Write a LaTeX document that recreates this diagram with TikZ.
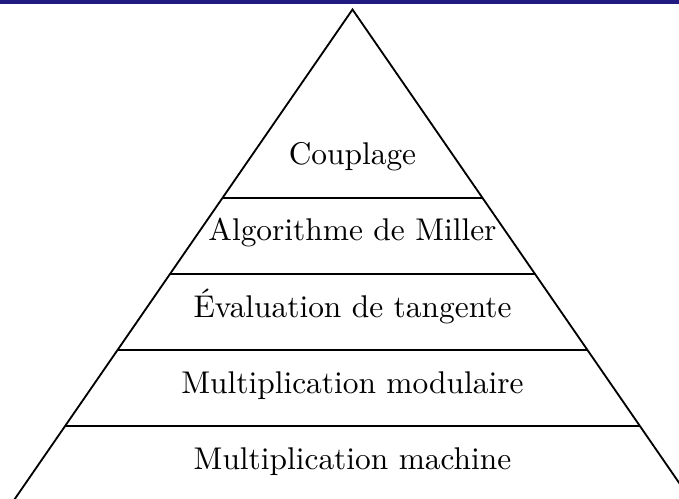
\documentclass[tikz,border=0pt]{standalone}
\usepackage{tikz}
\usetikzlibrary{calc}

\definecolor{barblue}{RGB}{33,26,128}

\tikzset{
  level/.style={semithick},
  label/.style={anchor=base,scale=1.03}
}

\begin{document}
\begin{tikzpicture}[x=0.328pt,y=-0.328pt]

	\useasboundingbox (0,0) rectangle (679,499);
	\fill [barblue] (0,0) rectangle (679,4);
	\clip (0,0) rectangle (679,499);

	\coordinate (T) at (352.5,9.5);
	\coordinate (L) at (-0.69,1);
	\coordinate (R) at (0.69,1);

	% Sides
	\draw [level] ($ (T) + 530*(L) $) -- (T) -- ($ (T) + 530*(R) $);

	% Levels
	\foreach \i in {0,1,2,3} {
		\draw [level] ($ (T) + {188.5+76*\i}*(L) $) -- ($ (T) + {188.5+76*\i}*(R) $);
	}

	% Labels
	\node [label] (couplage) at (352.5,165) {Couplage};
	\node [label] (miller) at (352.5,241) {Algorithme de Miller};
	\node [label] (tangente) at (352.5,317) {Évaluation de tangente};
	\node [label] (modulaire) at (352.5,393) {Multiplication modulaire};
	\node [label] (machine) at (352.5,469) {Multiplication machine};

\end{tikzpicture}
\end{document}
